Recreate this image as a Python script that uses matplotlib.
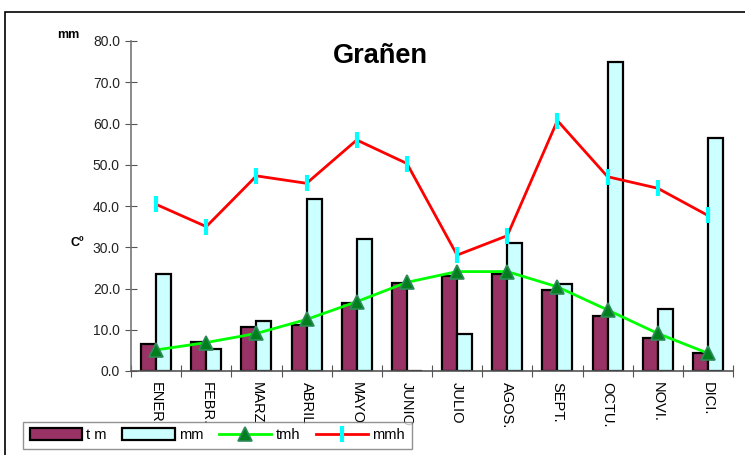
import matplotlib
matplotlib.use("Agg")
import matplotlib.pyplot as plt
import numpy as np
from matplotlib.patches import Rectangle

plt.rcParams["font.family"] = ["Liberation Sans", "DejaVu Sans"]

# monthly data
months = ["ENER", "FEBR.", "MARZ", "ABRIL", "MAYO", "JUNIO",
          "JULIO", "AGOS.", "SEPT.", "OCTU.", "NOVI.", "DICI."]
t_m = [6.5, 7.0, 10.7, 11.1, 16.4, 21.4, 23.1, 23.4, 19.6, 13.4, 8.1, 4.3]
mm = [23.6, 5.3, 12.2, 41.6, 32.0, 0.0, 8.9, 31.1, 21.1, 74.9, 15.0, 56.6]
tmh = [5.1, 6.9, 9.1, 12.5, 16.8, 21.5, 24.1, 24.1, 20.4, 14.8, 9.1, 4.3]
mmh = [40.4, 35.0, 47.3, 45.5, 56.0, 50.3, 28.1, 32.8, 60.7, 47.1, 44.3, 37.7]
yticks = [0, 10, 20, 30, 40, 50, 60, 70, 80]

fig = plt.figure(figsize=(7.45, 4.55), dpi=100)
ax = fig.add_axes([131 / 745, 1 - 371 / 455, 602 / 745, 330 / 455])

x = np.arange(len(months))
w = 0.3
b1 = ax.bar(x - w / 2, t_m, w, color="#993366", edgecolor="black", linewidth=1.6,
            label="t m", zorder=2)
b2 = ax.bar(x + w / 2, mm, w, color="#CCFFFF", edgecolor="black", linewidth=1.6,
            label="mm", zorder=2)
l1, = ax.plot(x, tmh, color="#00FF00", linewidth=2, marker="^", markersize=10,
              markerfacecolor="#007F1F", markeredgecolor="#2E8B57", markeredgewidth=1.2,
              label="tmh", zorder=4)
l2, = ax.plot(x, mmh, color="#FF0000", linewidth=2, marker="|", markersize=12,
              markeredgecolor="#00FFFF", markeredgewidth=3, label="mmh", zorder=3)

ax.set_xlim(-0.5, len(months) - 0.5)
ax.set_ylim(0, 80)
ax.set_yticks(yticks)
ax.set_yticklabels([f"{v:.1f}" for v in yticks], fontsize=10, color="#222222")
ax.set_xticks(np.arange(-0.5, len(months), 1.0))
ax.set_xticklabels([])
ax.set_xticks(x, minor=True)
ax.set_xticklabels(months, minor=True, rotation=270, fontsize=10.5, va="top", ha="center")
ax.tick_params(axis="x", which="minor", length=0, pad=8)
ax.tick_params(axis="both", which="major", direction="inout", length=8, color="#555555")
ax.tick_params(axis="y", pad=4)

for s in ("top", "right"):
    ax.spines[s].set_visible(False)
ax.spines["left"].set_color("#777777")
ax.spines["bottom"].set_color("#555555")
ax.spines["left"].set_linewidth(1.2)
ax.spines["bottom"].set_linewidth(1.2)

fig.text(380 / 745, 1 - 56 / 455, "Grañen", fontsize=19.5, fontweight="bold",
         ha="center", va="center")
fig.text(68 / 745, 1 - 35 / 455, "mm", fontsize=9, fontweight="bold",
         ha="center", va="center")
fig.text(77 / 745, 1 - 243 / 455, "Cº", fontsize=9, fontweight="bold",
         ha="center", va="center")

# outer chart frame (partly cut by the image edge)
fig.patches.append(Rectangle((5 / 745, -0.05), 1.0, 1 - 12 / 455 + 0.05,
                             transform=fig.transFigure, fill=False,
                             edgecolor="black", linewidth=1.2))

leg = fig.legend(handles=[b1, b2, l1, l2], labels=["t m", "mm", "tmh", "mmh"],
                 ncol=4, loc="lower left", bbox_to_anchor=(23 / 745, 6 / 455),
                 fontsize=10.5, frameon=True, fancybox=False, handlelength=3.6,
                 handleheight=0.9, handletextpad=0.3, columnspacing=1.05,
                 borderpad=0.45, borderaxespad=0)
leg.get_frame().set_edgecolor("#777777")
leg.get_frame().set_linewidth(1)

fig.savefig("out.png", dpi=100)
